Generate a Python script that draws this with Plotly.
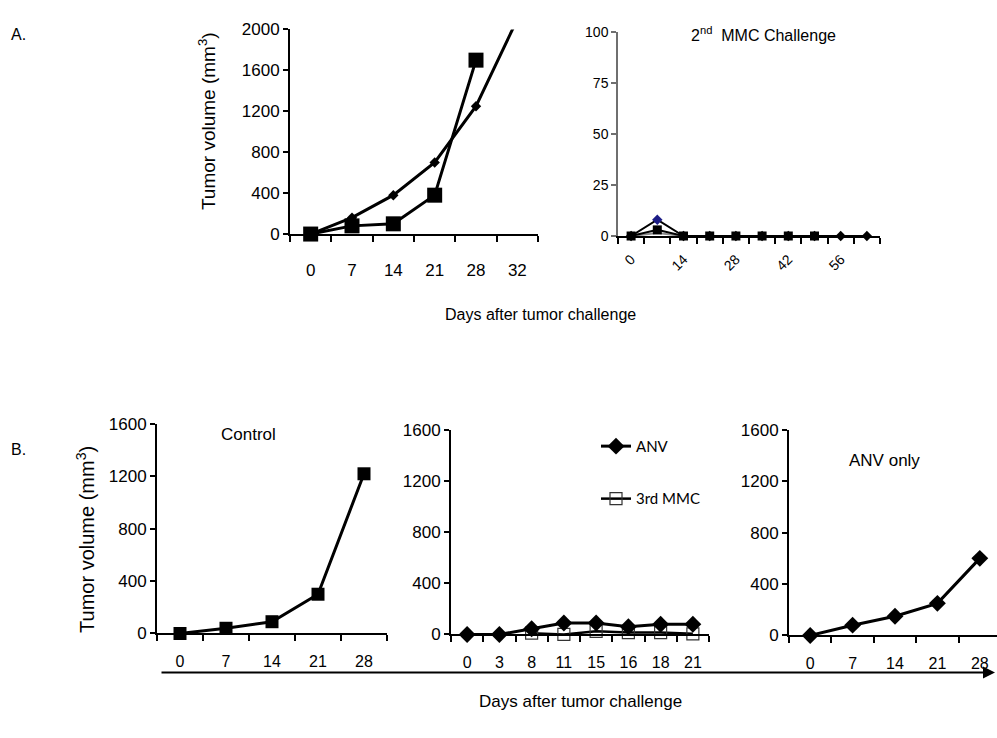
import plotly.graph_objects as go

W, H = 997, 738

# ---- Panel A (left): tumour growth after first challenge ----
a1_days = ["0", "7", "14", "21", "28", "32"]
a1_diamond = [0, 160, 380, 700, 1250, 2100]
a1_square = [0, 80, 100, 380, 1700, None]

# ---- Panel A (right): 2nd MMC challenge ----
a2_days = ["0", "7", "14", "21", "28", "35", "42", "49", "56", "63"]
a2_shown_days = ["0", "14", "28", "42", "56"]
a2_diamond = [0, 8, 0, 0, 0, 0, 0, 0, 0, 0]
a2_square = [0, 3, 0, 0, 0, 0, 0, 0, None, None]
a2_gray = [0, 1.5, 0, 0, 0, 0, 0, 0, 0, 0]

# ---- Panel B ----
b1_days = ["0", "7", "14", "21", "28"]
b1_control = [0, 40, 90, 300, 1220]

b2_days = ["0", "3", "8", "11", "15", "16", "18", "21"]
b2_anv = [0, 0, 45, 90, 90, 60, 80, 80]
b2_mmc3 = [None, None, 10, 0, 25, 15, 15, 5]

b3_days = ["0", "7", "14", "21", "28"]
b3_anv_only = [0, 80, 150, 250, 600]

NARROW = "Liberation Sans Narrow, Arial Narrow, Liberation Sans, Arial"
SANS = "Liberation Sans, Arial"


def xdom(a, b):
    return [max(0, a / W), min(1, b / W)]


def ydom(top, bottom):
    return [1 - bottom / H, 1 - top / H]


def cat_xaxis(n, dom, labels, size, family, standoff, anchor,
              rng_end=None, angle=0, lw=2, label_pos=None):
    idx = list(range(n)) if label_pos is None else label_pos
    return dict(
        domain=dom,
        anchor=anchor,
        range=[-0.5, (n - 0.5) if rng_end is None else rng_end],
        tickmode="array",
        tickvals=idx,
        ticktext=labels,
        ticks="",
        ticklabelstandoff=standoff,
        tickangle=angle,
        showgrid=False,
        zeroline=False,
        showline=True,
        linecolor="black",
        linewidth=lw,
        tickfont=dict(size=size, family=family, color="black"),
        minor=dict(
            tickmode="array",
            tickvals=[i - 0.5 for i in range(n + 1)],
            ticks="outside",
            ticklen=6,
            tickwidth=lw,
            tickcolor="black",
        ),
        fixedrange=True,
    )


def val_yaxis(dom, rng, vals, size, family, anchor, color="black", lw=2):
    return dict(
        domain=dom,
        range=rng,
        tickmode="array",
        tickvals=vals,
        ticks="outside",
        ticklen=5,
        tickwidth=lw,
        tickcolor=color,
        showgrid=False,
        zeroline=False,
        showline=True,
        linecolor=color,
        linewidth=lw,
        anchor=anchor,
        tickfont=dict(size=size, family=family, color="black"),
        fixedrange=True,
    )


fig = go.Figure()

# A left
fig.add_trace(go.Scatter(
    x=list(range(len(a1_days))), y=a1_diamond, mode="lines+markers",
    line=dict(color="black", width=3),
    marker=dict(symbol="diamond", size=8, color="black"),
    xaxis="x", yaxis="y", showlegend=False, cliponaxis=True))
fig.add_trace(go.Scatter(
    x=list(range(len(a1_days))), y=a1_square, mode="lines+markers",
    line=dict(color="black", width=3),
    marker=dict(symbol="square", size=15, color="black"),
    xaxis="x", yaxis="y", showlegend=False, cliponaxis=False))

# A right
a2x = list(range(len(a2_days)))
a2_label_pos = [a2_days.index(d) for d in a2_shown_days]
fig.add_trace(go.Scatter(
    x=a2x, y=a2_gray, mode="lines",
    line=dict(color="#8a8a8a", width=2),
    xaxis="x2", yaxis="y2", showlegend=False, cliponaxis=False))
fig.add_trace(go.Scatter(
    x=a2x, y=a2_diamond, mode="lines+markers",
    line=dict(color="black", width=2),
    marker=dict(symbol="diamond", size=8,
                color=["black", "#1c1c86"] + ["black"] * 8),
    xaxis="x2", yaxis="y2", showlegend=False, cliponaxis=False))
fig.add_trace(go.Scatter(
    x=a2x, y=a2_square, mode="lines+markers",
    line=dict(color="black", width=2),
    marker=dict(symbol="square", size=9, color="black"),
    xaxis="x2", yaxis="y2", showlegend=False, cliponaxis=False))

# B left
fig.add_trace(go.Scatter(
    x=list(range(len(b1_days))), y=b1_control, mode="lines+markers",
    line=dict(color="black", width=3),
    marker=dict(symbol="square", size=13, color="black"),
    xaxis="x3", yaxis="y3", showlegend=False, cliponaxis=False))

# B middle
fig.add_trace(go.Scatter(
    x=list(range(len(b2_days))), y=b2_mmc3, mode="lines+markers",
    name="3rd MMC", legendgroup="mmc", legendrank=2,
    line=dict(color="black", width=2.5),
    marker=dict(symbol="square-open", size=12, color="#333333",
                line=dict(width=1.2)),
    xaxis="x4", yaxis="y4", cliponaxis=False))
fig.add_trace(go.Scatter(
    x=list(range(len(b2_days))), y=b2_anv, mode="lines+markers",
    name="ANV", legendgroup="anv", legendrank=1,
    line=dict(color="black", width=3),
    marker=dict(symbol="diamond", size=13, color="black"),
    xaxis="x4", yaxis="y4", cliponaxis=False))

# B right
fig.add_trace(go.Scatter(
    x=list(range(len(b3_days))), y=b3_anv_only, mode="lines+markers",
    line=dict(color="black", width=3),
    marker=dict(symbol="diamond", size=13, color="black"),
    xaxis="x5", yaxis="y5", showlegend=False, cliponaxis=False))

b3_width = 42.4
b3_end = -0.5 + (W - 789) / b3_width

fig.update_layout(
    width=W, height=H,
    margin=dict(l=0, r=0, t=0, b=0),
    paper_bgcolor="white", plot_bgcolor="white",
    font=dict(family=SANS, color="black"),
    xaxis=cat_xaxis(6, xdom(290, 538), a1_days, 17, SANS, 20, "y"),
    yaxis=val_yaxis(ydom(21, 231), [0, 2000], [0, 400, 800, 1200, 1600, 2000], 17, SANS, "x"),
    xaxis2=cat_xaxis(10, xdom(618, 880), a2_shown_days, 14, SANS, 8, "y2",
                     angle=-45, lw=1.5, label_pos=a2_label_pos),
    yaxis2=val_yaxis(ydom(24, 233), [0, 100], [0, 25, 50, 75, 100], 14, SANS, "x2",
                     color="#6f6f6f", lw=1.5),
    xaxis3=cat_xaxis(5, xdom(157, 387), b1_days, 16, NARROW, 12, "y3"),
    yaxis3=val_yaxis(ydom(426, 641), [0, 1600], [0, 400, 800, 1200, 1600], 17, NARROW, "x3"),
    xaxis4=cat_xaxis(8, xdom(451, 709), b2_days, 16, NARROW, 12, "y4"),
    yaxis4=val_yaxis(ydom(432, 642), [0, 1600], [0, 400, 800, 1200, 1600], 17, NARROW, "x4"),
    xaxis5=cat_xaxis(5, xdom(789, W), b3_days, 16, NARROW, 12, "y5", rng_end=b3_end),
    yaxis5=val_yaxis(ydom(432, 643), [0, 1600], [0, 400, 800, 1200, 1600], 17, NARROW, "x5"),
    legend=dict(
        x=596 / W, y=1 - 432 / H, xanchor="left", yanchor="top",
        bgcolor="rgba(0,0,0,0)", borderwidth=0,
        font=dict(family="Lato, Open Sans, sans-serif", size=15, color="black"),
        tracegroupgap=30, itemwidth=30,
    ),
)


def P(px, py):
    return px / W, 1 - py / H


notes = [
    ("A.", 18, 26, 16, SANS, 0),
    ("B.", 18, 452, 16, SANS, 0),
    ("Days after tumor challenge", 540, 314, 16, NARROW, 0),
    ("Days after tumor challenge", 580, 711, 17, NARROW, 0),
    ("Tumor volume (mm<sup>3</sup>)", 207, 115, 19, SANS, -90),
    ("Tumor volume (mm<sup>3</sup>)", 86, 545, 20, NARROW, -90),
    ("2<sup>nd</sup>  MMC Challenge", 763, 26, 16, SANS, 0),
    ("Control", 248, 437, 17, NARROW, 0),
    ("ANV only", 884, 463, 17, NARROW, 0),
]
for text, px, py, size, fam, ang in notes:
    x, y = P(px, py)
    fig.add_annotation(
        x=x, y=y, xref="paper", yref="paper", text=text, showarrow=False,
        textangle=ang, xanchor="center", yanchor="middle",
        font=dict(size=size, family=fam, color="black"),
    )

# Long time arrow under panel B
hx, hy = P(995, 681)
fig.add_annotation(
    x=hx, y=hy, ax=-(995 - 160), ay=0, xref="paper", yref="paper",
    axref="pixel", ayref="pixel", text="", showarrow=True,
    arrowhead=2, arrowsize=1.2, arrowwidth=2, arrowcolor="black",
)

fig.write_html("out.html")
